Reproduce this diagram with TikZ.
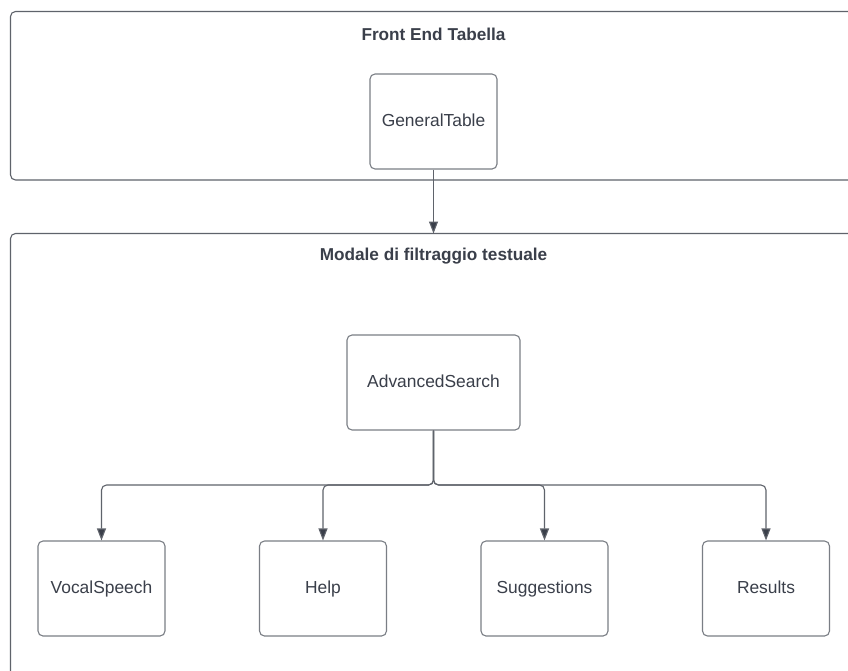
\documentclass[tikz,border=0pt]{standalone}
\usepackage{fontspec}
\setmainfont{Liberation Sans}
\usetikzlibrary{arrows.meta}
\definecolor{framegray}{HTML}{5F636B}
\definecolor{boxgray}{HTML}{7A7E85}
\definecolor{inkdark}{HTML}{3A3F4A}
\tikzset{
  container/.style={draw=framegray, line width=1.1pt, rounded corners=5pt},
  block/.style={draw=boxgray, line width=1.1pt, rounded corners=5pt, fill=white,
    minimum width=127pt, minimum height=95pt, inner sep=0pt,
    text height=12.5pt, text depth=3.5pt,
    text=inkdark, font=\fontsize{17.4}{20}\selectfont},
  heading/.style={text=inkdark, font=\fontsize{17.2}{20}\selectfont\bfseries},
  link/.style={draw=framegray, line width=1.1pt, rounded corners=5pt,
    -{Triangle[length=12pt,width=9pt,fill=inkdark]}},
}
\begin{document}
\begin{tikzpicture}[x=1pt, y=-1pt]
  \useasboundingbox (0,0) rectangle (848,670);
  \clip (0,0) rectangle (848,670);
  \fill[white] (0,0) rectangle (848,670);

  % two containers, running past the right and bottom edges
  \draw[container] (10.5,11.5) rectangle (870,180);
  \draw[container] (10.5,233.5) rectangle (870,700);

  \node[heading] (t1) at (433.5,34.5) {Front End Tabella};
  \node[heading] (t2) at (433.5,256.5) {Modale di filtraggio testuale};

  \node[block] (gt) at (433.5,121.5) {GeneralTable};
  \node[block, minimum width=173pt] (adv) at (433.5,382.5) {AdvancedSearch};

  \node[block] (vs) at (101.5,588.5) {VocalSpeech};
  \node[block] (hp) at (323,588.5) {Help};
  \node[block] (sg) at (544.5,588.5) {Suggestions};
  \node[block] (rs) at (766,588.5) {Results};

  \coordinate (top2) at (433.5,233.5);
  \coordinate (bus) at (433.5,485);

  \draw[link] (gt.south) -- (top2);
  \foreach \c in {vs,hp,sg,rs}
    \draw[link] (adv.south) -- (bus) -| (\c.north);
\end{tikzpicture}
\end{document}
